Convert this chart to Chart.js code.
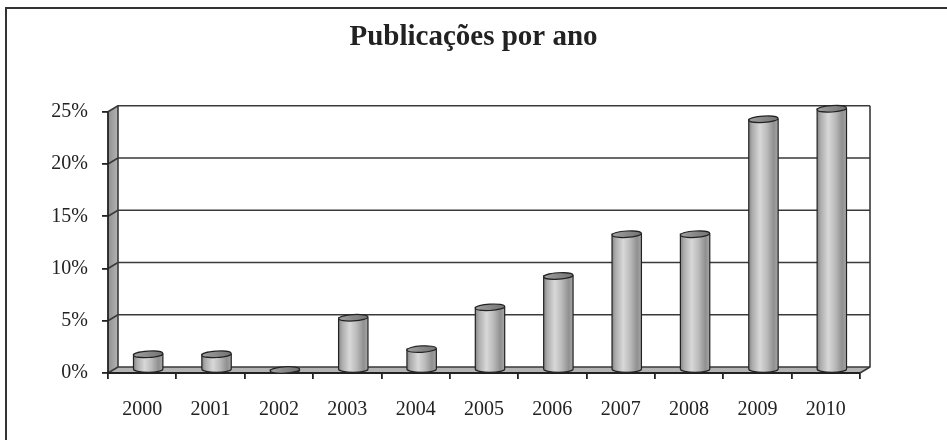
<!DOCTYPE html>
<html>
<head>
<meta charset="utf-8">
<script src="https://cdn.jsdelivr.net/npm/chart.js@4/dist/chart.umd.min.js"></script>
<style>
  html, body { margin: 0; padding: 0; background: #fff; }
  #wrap { width: 947px; height: 440px; }
</style>
</head>
<body>
<div id="wrap"><canvas id="c" width="947" height="440"></canvas></div>
<script>
const titleText = 'Publicações por ano';
const years = ['2000','2001','2002','2003','2004','2005','2006','2007','2008','2009','2010'];
const shares = [1.5, 1.5, 0, 5, 2, 6, 9, 13, 13, 24, 25];
const yTicks = [0, 5, 10, 15, 20, 25];

const DX = 10, DY = -6;
const SERIF = "'Liberation Serif', 'Times New Roman', serif";

const scene3d = {
  id: 'scene3d',
  beforeDraw(chart) {
    const ctx = chart.ctx;
    ctx.save();
    ctx.fillStyle = '#fff';
    ctx.fillRect(0, 0, chart.width, chart.height);
    ctx.strokeStyle = '#333';
    ctx.lineWidth = 2;
    ctx.beginPath();
    ctx.moveTo(6, chart.height);
    ctx.lineTo(6, 8);
    ctx.lineTo(chart.width, 8);
    ctx.stroke();
    ctx.restore();
  },
  beforeDatasetsDraw(chart) {
    const ctx = chart.ctx;
    const ys = chart.scales.y;
    const a = chart.chartArea;
    const L = a.left, R = a.right;
    const f0 = ys.getPixelForValue(0), fTop = ys.getPixelForValue(25);
    ctx.save();
    ctx.lineJoin = 'round';
    // side wall
    const sg = ctx.createLinearGradient(L, 0, L + DX, 0);
    sg.addColorStop(0, '#8f8f8f');
    sg.addColorStop(1, '#b5b5b5');
    ctx.fillStyle = sg;
    ctx.beginPath();
    ctx.moveTo(L, f0); ctx.lineTo(L, fTop); ctx.lineTo(L + DX, fTop + DY); ctx.lineTo(L + DX, f0 + DY); ctx.closePath();
    ctx.fill();
    // floor
    ctx.fillStyle = '#b3b3b3';
    ctx.beginPath();
    ctx.moveTo(L, f0); ctx.lineTo(L + DX, f0 + DY); ctx.lineTo(R + DX, f0 + DY); ctx.lineTo(R, f0); ctx.closePath();
    ctx.fill();
    // back wall grid lines
    ctx.strokeStyle = '#3a3a3a';
    ctx.lineWidth = 1.6;
    yTicks.forEach(v => {
      const fy = ys.getPixelForValue(v);
      ctx.beginPath();
      ctx.moveTo(L, fy); ctx.lineTo(L + DX, fy + DY); ctx.lineTo(R + DX, fy + DY);
      ctx.stroke();
    });
    // back wall edges
    ctx.beginPath();
    ctx.moveTo(L + DX, f0 + DY); ctx.lineTo(L + DX, fTop + DY);
    ctx.moveTo(R + DX, fTop + DY); ctx.lineTo(R + DX, f0 + DY); ctx.lineTo(R, f0);
    ctx.stroke();
    // front edges
    ctx.strokeStyle = '#222';
    ctx.lineWidth = 1.8;
    ctx.beginPath();
    ctx.moveTo(L, fTop); ctx.lineTo(L, f0); ctx.lineTo(R, f0);
    ctx.stroke();
    ctx.restore();
  },
  afterDatasetsDraw(chart) {
    const ctx = chart.ctx;
    const meta = chart.getDatasetMeta(0);
    ctx.save();
    meta.data.forEach(bar => {
      const p = bar.getProps(['x', 'y', 'base', 'width'], true);
      const cx = p.x + DX * 0.6;
      const w = p.width;
      const rx = w / 2, ry = 3.2;
      const top = p.y + DY / 2;
      const bot = p.base + DY / 2;
      const x0 = cx - rx, x1 = cx + rx;
      const g = ctx.createLinearGradient(x0, 0, x1, 0);
      g.addColorStop(0, '#858585');
      g.addColorStop(0.12, '#acacac');
      g.addColorStop(0.38, '#d8d8d8');
      g.addColorStop(0.62, '#bababa');
      g.addColorStop(0.85, '#909090');
      g.addColorStop(1, '#a6a6a6');
      ctx.fillStyle = g;
      ctx.strokeStyle = '#222';
      ctx.lineWidth = 1.2;
      // body
      ctx.beginPath();
      ctx.moveTo(x0, top);
      ctx.lineTo(x0, bot);
      ctx.ellipse(cx, bot, rx, ry, 0, Math.PI, 0, true);
      ctx.lineTo(x1, top);
      ctx.closePath();
      ctx.fill();
      ctx.stroke();
      // top cap
      ctx.beginPath();
      ctx.ellipse(cx, top, rx, ry, -0.06, 0, Math.PI * 2);
      const tg = ctx.createLinearGradient(x0, 0, x1, 0);
      tg.addColorStop(0, '#a0a0a0');
      tg.addColorStop(0.5, '#888888');
      tg.addColorStop(1, '#747474');
      ctx.fillStyle = tg;
      ctx.fill();
      ctx.stroke();
    });
    ctx.restore();
  }
};

new Chart(document.getElementById('c'), {
  type: 'bar',
  data: {
    labels: years,
    datasets: [{
      data: shares,
      backgroundColor: 'rgba(0,0,0,0)',
      borderWidth: 0,
      categoryPercentage: 1,
      barPercentage: 0.43
    }]
  },
  options: {
    responsive: false,
    animation: false,
    events: [],
    layout: { padding: 0 },
    plugins: {
      legend: { display: false },
      tooltip: { enabled: false },
      title: {
        display: true,
        text: titleText,
        color: '#222',
        font: { family: SERIF, size: 29, weight: 'bold', lineHeight: 1.2 },
        padding: { top: 20, bottom: 57 }
      }
    },
    scales: {
      x: {
        afterFit(s) { s.height = 67; },
        grid: { display: true, drawOnChartArea: false, offset: true, tickLength: 6, color: '#222', lineWidth: 1.8 },
        border: { display: false },
        ticks: { color: '#222', font: { family: SERIF, size: 20 }, padding: 19, maxRotation: 0 }
      },
      y: {
        min: 0, max: 25,
        afterFit(s) { s.width = 108; },
        afterBuildTicks(s) { s.ticks = yTicks.map(v => ({ value: v })); },
        grid: { display: true, drawOnChartArea: false, tickLength: 6, color: '#222', lineWidth: 1.8 },
        border: { display: false },
        ticks: { color: '#222', font: { family: SERIF, size: 20 }, padding: 14, callback: v => v + '%' }
      },
      spacer: {
        type: 'linear',
        position: 'right',
        display: true,
        afterFit(s) { s.width = 87; },
        grid: { display: false, drawOnChartArea: false },
        border: { display: false },
        ticks: { display: false }
      }
    }
  },
  plugins: [scene3d]
});
</script>
</body>
</html>
